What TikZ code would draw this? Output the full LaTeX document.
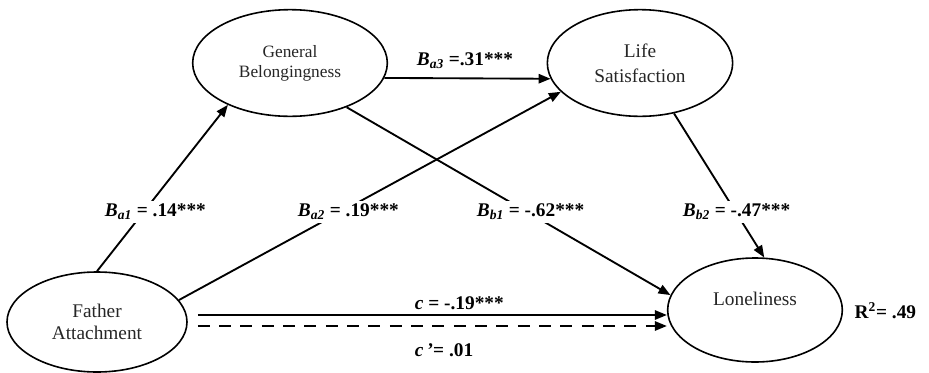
\documentclass[tikz,border=0pt]{standalone}
\usepackage{fontspec}
\setmainfont{Liberation Serif}
\usetikzlibrary{shapes.geometric}
\usetikzlibrary{arrows.meta}

\begin{document}
\begin{tikzpicture}[x=0.75pt, y=-0.75pt,
    latent/.style={draw, ellipse, line width=1.2pt, align=center, inner sep=0pt,
      text=black!85, font=\fontsize{14.5}{17}\selectfont},
    coef/.style={anchor=west, fill=white, inner sep=2pt,
      font=\fontsize{14.5}{17}\selectfont\bfseries},
    effect/.style={line width=1.4pt, -{Triangle[length=9pt,width=7pt]}}]
    \useasboundingbox (0,0) rectangle (929,372);

    \node[latent, minimum width=135pt, minimum height=75pt] (FA) at (97,322) {Father\\Attachment};
    \node[latent, minimum width=146pt, minimum height=80pt, font=\fontsize{13}{15}\selectfont] (GB) at (290,63) {General\\Belongingness};
    \node[latent, minimum width=139pt, minimum height=80pt, font=\fontsize{14.5}{18.5}\selectfont] (LS) at (640,63) {Life\\Satisfaction};
    \node[latent, minimum width=131pt, minimum height=78pt] (LN) at (755,310) {Loneliness\\\mbox{}};

    \draw[effect] (FA.north) -- (GB.214);
    \draw[effect] (FA.15) -- (LS.200);
    \draw[effect] (GB.-9) -- (LS.190);
    \draw[effect] (GB.-38) -- (LN.170);
    \draw[effect] (LS.-56) -- (LN.80);
    \draw[effect] ([shift={(10,-7)}]FA.east) -- ([shift={(0,5)}]LN.west);
    \draw[effect, dash pattern=on 9pt off 7pt] ([shift={(10,4)}]FA.east) -- ([shift={(0,16)}]LN.west);

    \node[coef] (Ba1) at (102,212) {\textit{B}\textsubscript{\textit{a1}} = .14***};
    \node[coef] (Ba2) at (295,212) {\textit{B}\textsubscript{\textit{a2}} = .19***};
    \node[coef] (Ba3) at (414,61) {\textit{B}\textsubscript{\textit{a3}} =.31***};
    \node[coef] (Bb1) at (474,212) {\textit{B}\textsubscript{\textit{b1}} = -.62***};
    \node[coef] (Bb2) at (680,212) {\textit{B}\textsubscript{\textit{b2}} = -.47***};
    \node[coef, fill=none] (Cc) at (412,303) {\textit{c} = -.19***};
    \node[coef, fill=none] (Cp) at (412,350) {\textit{c\,'}= .01};
    \node[anchor=west, font=\fontsize{14.5}{16}\selectfont\bfseries] (R2) at (850,311) {R\textsuperscript{2}= .49};
\end{tikzpicture}
\end{document}
